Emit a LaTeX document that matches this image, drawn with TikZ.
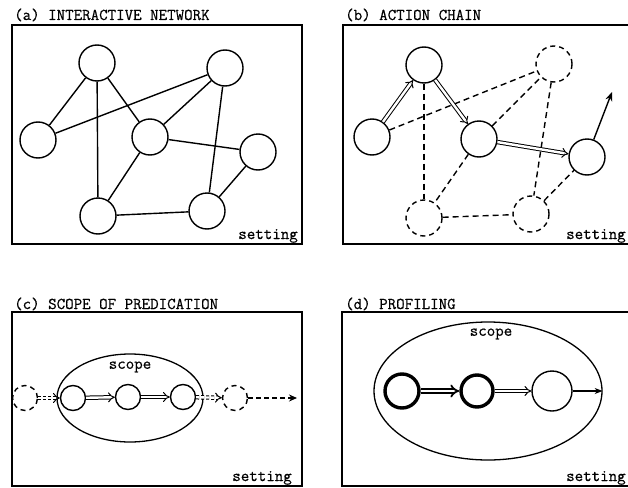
\documentclass[tikz,border=0pt]{standalone}
\usepackage{fontspec}
\newfontfamily\typer[FakeBold=0.6]{Latin Modern Mono}
\usetikzlibrary{arrows.meta,shapes.geometric}
\begin{document}
\begin{tikzpicture}[x=1pt,y=-1pt,
  every node/.style={font=\fontsize{16.5}{19}\typer},
  frame/.style={draw,line width=1.6pt},
  ent/.style={circle,draw,line width=1.4pt,minimum size=36pt,inner sep=0pt},
  ghost/.style={ent,dashed,dash pattern=on 5pt off 4pt},
  small/.style={minimum size=25pt},
  heavy/.style={line width=3.4pt},
  link/.style={line width=1.4pt},
  dlink/.style={link,dash pattern=on 6pt off 4pt},
  flow/.style={line width=1pt,double,double distance=2.4pt,-{Implies[length=5pt,width=8pt]}},
  scopeoval/.style={ellipse,draw,line width=1.3pt,inner sep=0pt},
  title/.style={anchor=base west,inner sep=0pt},
  tag/.style={inner sep=0pt}
]
\useasboundingbox (0,0) rectangle (628,487);
\clip (0,0) rectangle (628,487);

% ---------- (a) interactive network ----------
\node[title] (ta) at (14,20) {(a) INTERACTIVE NETWORK};
\draw[frame] (12,25) rectangle (302,244);
\node[tag,anchor=base east] (sa) at (298,239) {setting};
\node[ent] (a1) at (97,63) {};
\node[ent] (a2) at (225,68) {};
\node[ent] (a3) at (38,140) {};
\node[ent] (a4) at (150,137) {};
\node[ent] (a5) at (258,152) {};
\node[ent] (a6) at (98,216) {};
\node[ent] (a7) at (207,211) {};
\draw[link] (a1) -- (a3);
\draw[link] (a1) -- (a6);
\draw[link] (a1) -- (a4);
\draw[link] (a3) -- (a2);
\draw[link] (a2) -- (a4);
\draw[link] (a2) -- (a7);
\draw[link] (a4) -- (a5);
\draw[link] (a4) -- (a6);
\draw[link] (a6) -- (a7);
\draw[link] (a7) -- (a5);

% ---------- (b) action chain ----------
\node[title] (tb) at (345,20) {(b) ACTION CHAIN};
\draw[frame] (343,25) rectangle (650,244);
\node[tag,anchor=base west] (sb) at (566,239) {setting};
\node[ent] (b1) at (372,137) {};
\node[ent] (b2) at (424,65) {};
\node[ent] (b3) at (479,139) {};
\node[ghost] (b4) at (554,64) {};
\node[ent] (b5) at (587,157) {};
\node[ghost] (b6) at (424,218) {};
\node[ghost] (b7) at (531,214) {};
\coordinate (bout) at (612,92);
\draw[dlink] (b1) -- (b4);
\draw[dlink] (b2) -- (b6);
\draw[dlink] (b3) -- (b4);
\draw[dlink] (b3) -- (b6);
\draw[dlink] (b4) -- (b7);
\draw[dlink] (b6) -- (b7);
\draw[dlink] (b7) -- (b5);
\draw[flow] (b1) -- (b2);
\draw[flow] (b2) -- (b3);
\draw[flow] (b3) -- (b5);
\draw[link,-{Stealth[length=9pt,width=7pt]}] (b5) -- (bout);

% ---------- (c) scope of predication ----------
\node[title] (tc) at (14,309) {(c) SCOPE OF PREDICATION};
\draw[frame] (12,312) rectangle (302,486);
\node[tag,anchor=base east] (sc) at (292,481) {setting};
\node[scopeoval,minimum width=146pt,minimum height=88pt] (oc) at (130,398) {};
\node[tag] (kc) at (130,367) {scope};
\node[ghost,small] (c0) at (25,398) {};
\node[ent,small] (c1) at (73,398) {};
\node[ent,small] (c2) at (128,397) {};
\node[ent,small] (c3) at (183,397) {};
\node[ghost,small] (c4) at (235,398) {};
\coordinate (cout) at (297,398);
\draw[flow,dash pattern=on 3pt off 2pt] (c0) -- (c1);
\draw[flow] (c1) -- (c2);
\draw[flow] (c2) -- (c3);
\draw[flow,dash pattern=on 3pt off 2pt] (c3) -- (c4);
\draw[link,dash pattern=on 5pt off 3pt,-{Stealth[length=8pt,width=7pt]}] (c4) -- (cout);

% ---------- (d) profiling ----------
\node[title] (td) at (345,309) {(d) PROFILING};
\draw[frame] (342,312) rectangle (650,486);
\node[tag,anchor=base west] (sd) at (566,481) {setting};
\node[scopeoval,minimum width=228pt,minimum height=138pt] (od) at (488,391) {};
\node[tag] (kd) at (491,334) {scope};
\node[ent,heavy,minimum size=34pt] (d1) at (402,391) {};
\node[ent,heavy,minimum size=32pt] (d2) at (477,391) {};
\node[ent,minimum size=40pt] (d3) at (552,391) {};
\draw[line width=1.8pt,double,double distance=2.4pt,-{Implies[length=6pt,width=12pt]}] (d1) -- (d2);
\draw[flow] (d2) -- (d3);
\draw[link,-{Stealth[length=8pt,width=6pt]}] (d3) -- (od.east);
\end{tikzpicture}
\end{document}
